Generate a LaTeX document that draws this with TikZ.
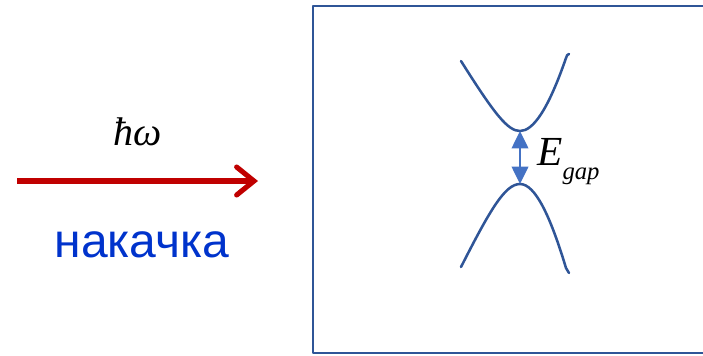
\documentclass[tikz,border=0pt]{standalone}
\usepackage{fontspec}
\setmainfont{Liberation Serif}
\newfontfamily\pumpfont{Liberation Sans}
\usetikzlibrary{arrows.meta}
\definecolor{pumpred}{HTML}{C00000}
\definecolor{pumpblue}{HTML}{0033CC}
\definecolor{bandblue}{HTML}{2F5597}
\definecolor{gapblue}{HTML}{4472C4}
\tikzset{
  band/.style={bandblue, line width=1.9pt, line cap=round},
  gaparrow/.style={gapblue, line width=1.1pt,
    {Triangle[length=13pt, width=12.5pt]}-{Triangle[length=13pt, width=12.5pt]}},
}
\begin{document}
\begin{tikzpicture}[x=0.75pt, y=-0.75pt, line join=round]
    \useasboundingbox (0,0) rectangle (703,355);
    % 1. Накачка: стрелка и подписи
    \coordinate (pumpL) at (17,181);
    \coordinate (pumpR) at (258,181);
    \draw[pumpred, line width=3.8pt,
        -{Straight Barb[length=13pt, width=21pt, line cap=round]}] (pumpL) -- (pumpR);
    \node[anchor=base] (hw) at (138,145) {\fontsize{30}{30}\selectfont\itshape ħω};
    \node[anchor=base, pumpblue] (pump) at (142,257)
        {\pumpfont\fontsize{36}{36}\selectfont накачка};

    % 2. Рамка образца
    \draw[bandblue, line width=1.8pt] (703,6) -- (313,6) -- (313,353) -- (703,353);

    % 3. Зона проводимости и валентная зона
    \coordinate (cbmin) at (520,131);
    \coordinate (vbmax) at (520,184);
    \draw[band] (461,61) .. controls (495,115) and (508,131) .. (cbmin)
        .. controls (533,131) and (548,110) .. (566,58) .. controls (567,55) .. (569,54);
    \draw[band] (461,267) .. controls (490,210) and (505,184) .. (vbmax)
        .. controls (535,184) and (550,215) .. (566,268) .. controls (567,271) .. (569,273);

    % 4. Ширина запрещённой зоны
    \draw[gaparrow] (cbmin) -- (vbmax);
    \node[anchor=base west, inner sep=0pt] (egap) at (537,165)
        {\fontsize{31}{31}\selectfont\itshape E\raisebox{-11pt}{\fontsize{18.5}{18.5}\selectfont gap}};
\end{tikzpicture}
\end{document}
